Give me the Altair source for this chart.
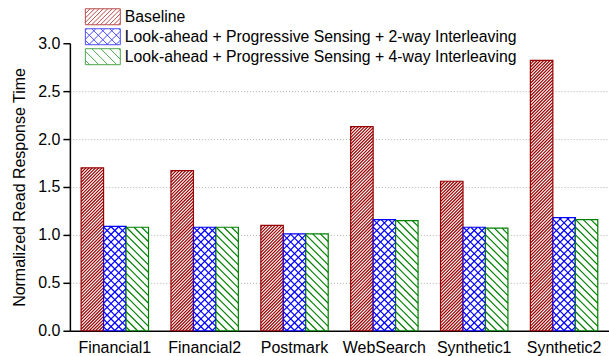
import altair as alt
import pandas as pd

# ---- data -------------------------------------------------------------
workloads = ["Financial1", "Financial2", "Postmark", "WebSearch", "Synthetic1", "Synthetic2"]
series = [
    "Baseline",
    "Look-ahead + Progressive Sensing + 2-way Interleaving",
    "Look-ahead + Progressive Sensing + 4-way Interleaving",
]
baseline = [1.70, 1.67, 1.10, 2.13, 1.56, 2.82]
interleave_2way = [1.09, 1.08, 1.01, 1.16, 1.08, 1.18]
interleave_4way = [1.08, 1.08, 1.01, 1.15, 1.07, 1.16]
y_tick_values = [0.0, 0.25, 0.5, 0.75, 1.0, 1.25, 1.5, 1.75, 2.0, 2.25, 2.5, 2.75, 3.0]

# ---- styling ----------------------------------------------------------
colors = ["#990000", "#0000ff", "#008000"]
hatch_slopes = [[1], [1, -1], [-1]]          # "/" , crosshatch, "\"
bar_hatch_period = [3.2, 7.7, 7.7]           # px between hatch lines in bars
legend_hatch_period = [4.4, 9.0, 9.0]        # px between hatch lines in legend swatches
hatch_width = 1.2

PLOT_W, PLOT_H, Y_MAX = 540, 288, 3.0
PX_PER_GROUP = PLOT_W / len(workloads)
PX_PER_UNIT = PLOT_H / Y_MAX
GROUP_PAD = 0.25
SUB_W = (1 - GROUP_PAD) / len(series)
FONT = "Liberation Sans"
FONT_SIZE = 16


def clip_hatch(w, h, period, slope, phase=0.5):
    """45-degree hatch segments clipped to a w x h box (y up, origin bottom-left)."""
    segs = []
    lo, hi = (-w, h) if slope > 0 else (0.0, w + h)
    c = lo + period * phase
    while c < hi:
        if slope > 0:
            ua, ub = max(0.0, -c), min(w, h - c)
            if ub > ua:
                segs.append((ua, ua + c, ub, ub + c))
        else:
            ua, ub = max(0.0, c - h), min(w, c)
            if ub > ua:
                segs.append((ua, c - ua, ub, c - ub))
        c += period
    return segs


values_by_series = [baseline, interleave_2way, interleave_4way]

bar_rows, hatch_rows = [], []
for j, (name, vals) in enumerate(zip(series, values_by_series)):
    for i, (wl, v) in enumerate(zip(workloads, vals)):
        bar_rows.append({"workload": wl, "series": name, "value": v})
        x0 = i + GROUP_PAD / 2 + j * SUB_W
        w_px = SUB_W * PX_PER_GROUP
        h_px = v * PX_PER_UNIT
        for s in hatch_slopes[j]:
            for ua, va, ub, vb in clip_hatch(w_px, h_px, bar_hatch_period[j], s):
                hatch_rows.append({
                    "series": name,
                    "x": x0 + ua / PX_PER_GROUP, "x2": x0 + ub / PX_PER_GROUP,
                    "y": va / PX_PER_UNIT, "y2": vb / PX_PER_UNIT,
                })

bars_df = pd.DataFrame(bar_rows)
hatch_df = pd.DataFrame(hatch_rows)


# legend swatches as custom symbol paths (1 unit = 8 px, box 35 x 16 px)
def swatch_path(period, slopes, w=35.0, h=16.0, unit=8.0):
    def pt(u, v):
        return f"{-1 + u / unit:.3f},{1 - v / unit:.3f}"
    parts = [f"M{pt(0, 0)}L{pt(w, 0)}L{pt(w, h)}L{pt(0, h)}Z"]
    for s in slopes:
        for ua, va, ub, vb in clip_hatch(w, h, period, s):
            parts.append(f"M{pt(ua, va)}L{pt(ub, vb)}")
    return "".join(parts)


legend_paths = [swatch_path(p, s) for p, s in zip(legend_hatch_period, hatch_slopes)]

stroke_scale = alt.Scale(domain=series, range=colors)
y_scale = alt.Scale(domain=[0, Y_MAX], nice=False, zero=True)

legend = alt.Legend(
    title=None, orient="none", legendX=15, legendY=-35,
    symbolSize=256, symbolStrokeWidth=1, symbolFillColor="white",
    labelFontSize=15.8, labelColor="black", labelOffset=23, labelLimit=600,
    rowPadding=-1, padding=0,
)

y_axis = alt.Axis(
    values=y_tick_values,
    labelExpr="datum.value % 0.5 == 0 ? format(datum.value, '.1f') : ''",
    tickSize={"condition": {"test": "datum.value % 0.5 == 0", "value": 7}, "value": 4},
    tickColor="black",
    tickWidth=1.5,
    domainColor="black",
    domainWidth=1.5,
    labelColor="black",
    labelFontSize=FONT_SIZE,
    labelPadding=3,
    labelOverlap=False,
    title="Normalized Read Response Time",
    titleFontSize=FONT_SIZE,
    titleFontWeight="normal",
    titleColor="black",
    titlePadding=10,
    grid=True,
    gridColor="#b0b0b0",
    gridDash=[1, 2],
    gridWidth=1,
    gridOpacity={"condition": {"test": "datum.value > 0 && datum.value < 3", "value": 1}, "value": 0},
)

x_axis = alt.Axis(
    title=None,
    labelAngle=0,
    labelFontSize=FONT_SIZE,
    labelColor="black",
    labelPadding=9,
    ticks=False,
    domainColor="black",
    domainWidth=1.5,
    grid=False,
)

series_stroke = alt.Stroke("series:N", sort=series, scale=stroke_scale, legend=legend)

bars = alt.Chart(bars_df).mark_bar(fill="white", strokeWidth=1.2).encode(
    x=alt.X("workload:N", sort=workloads,
            scale=alt.Scale(paddingInner=GROUP_PAD, paddingOuter=GROUP_PAD / 2),
            axis=x_axis),
    xOffset=alt.XOffset("series:N", sort=series),
    y=alt.Y("value:Q", scale=y_scale, axis=y_axis),
    stroke=series_stroke,
)

hatch = alt.Chart(hatch_df).mark_rule(strokeWidth=hatch_width).encode(
    x=alt.X("x:Q", scale=alt.Scale(domain=[0, len(workloads)], nice=False, zero=False), axis=None),
    x2="x2:Q",
    y=alt.Y("y:Q", scale=y_scale),
    y2="y2:Q",
    stroke=series_stroke,
)

# legend-only layer: its points sit outside the drawing area
legend_marks = alt.Chart(pd.DataFrame({"series": series})).mark_point(
    filled=False, size=256, strokeWidth=1
).encode(
    x=alt.value(-500),
    y=alt.value(-500),
    stroke=series_stroke,
    shape=alt.Shape("series:N", sort=series, scale=alt.Scale(domain=series, range=legend_paths), legend=legend),
)

chart = (
    alt.layer(legend_marks, bars, hatch)
    .resolve_scale(x="independent")
    .properties(
        width=PLOT_W, height=PLOT_H,
        autosize=alt.AutoSizeParams(type="none"),
        padding={"left": 70, "top": 43, "right": 0, "bottom": 25},
    )
    .configure(font=FONT)
    .configure_view(stroke=None)
)

chart.save("out.html", embed_options={"renderer": "svg", "actions": False})
